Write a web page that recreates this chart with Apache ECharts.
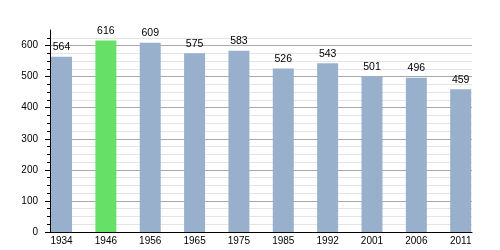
<!DOCTYPE html>
<html><head><meta charset="utf-8">
<script src="https://cdn.jsdelivr.net/npm/echarts@6/dist/echarts.min.js"></script>
<style>html,body{margin:0;padding:0;background:#fff}#c{width:500px;height:250px}</style>
</head><body><div id="c"></div>
<script>
const years = ['1934','1946','1956','1965','1975','1985','1992','2001','2006','2011'];
const population = [564, 616, 609, 575, 583, 526, 543, 501, 496, 459];
const highlightYear = '1946';
const yTicks = [0, 100, 200, 300, 400, 500, 600];

const blue = '#98b0cc', green = '#66e066';
const chart = echarts.init(document.getElementById('c'));
chart.setOption({
  animation: false,
  grid: {left: 50, right: 28, top: 30, bottom: 18},
  xAxis: {
    type: 'value', min: -0.26, max: 9.255,
    axisLine: {show: true, onZero: false, lineStyle: {color: '#000', width: 1}},
    axisTick: {show: false},
    splitLine: {show: false},
    axisLabel: {
      customValues: years.map((y, i) => i),
      formatter: v => years[Math.round(v)],
      color: '#000', fontSize: 10, fontFamily: 'Liberation Sans, Arial', margin: 4
    }
  },
  yAxis: {
    type: 'value', min: 0, max: 650, interval: 100,
    axisLine: {show: true, onZero: false, lineStyle: {color: '#000', width: 1}},
    axisTick: {show: true, length: 5, customValues: yTicks, lineStyle: {color: '#000'}},
    minorTick: {show: true, splitNumber: 4, length: 3, lineStyle: {color: '#000'}},
    splitLine: {show: true, lineStyle: {color: '#a8a8a8', width: 1}},
    minorSplitLine: {show: true, lineStyle: {color: '#e4e4e4', width: 1}},
    axisLabel: {customValues: yTicks, color: '#000', fontSize: 10, fontFamily: 'Liberation Sans, Arial', margin: 12}
  },
  series: [{
    type: 'bar', barWidth: 21,
    data: population.map((v, i) => ({value: [i, v], itemStyle: {color: years[i] === highlightYear ? green : blue}})),
    label: {show: true, position: 'top', distance: 4, color: '#000', fontSize: 10.5, fontFamily: 'Liberation Sans, Arial',
      formatter: p => p.value[1]}
  }]
});
</script></body></html>
